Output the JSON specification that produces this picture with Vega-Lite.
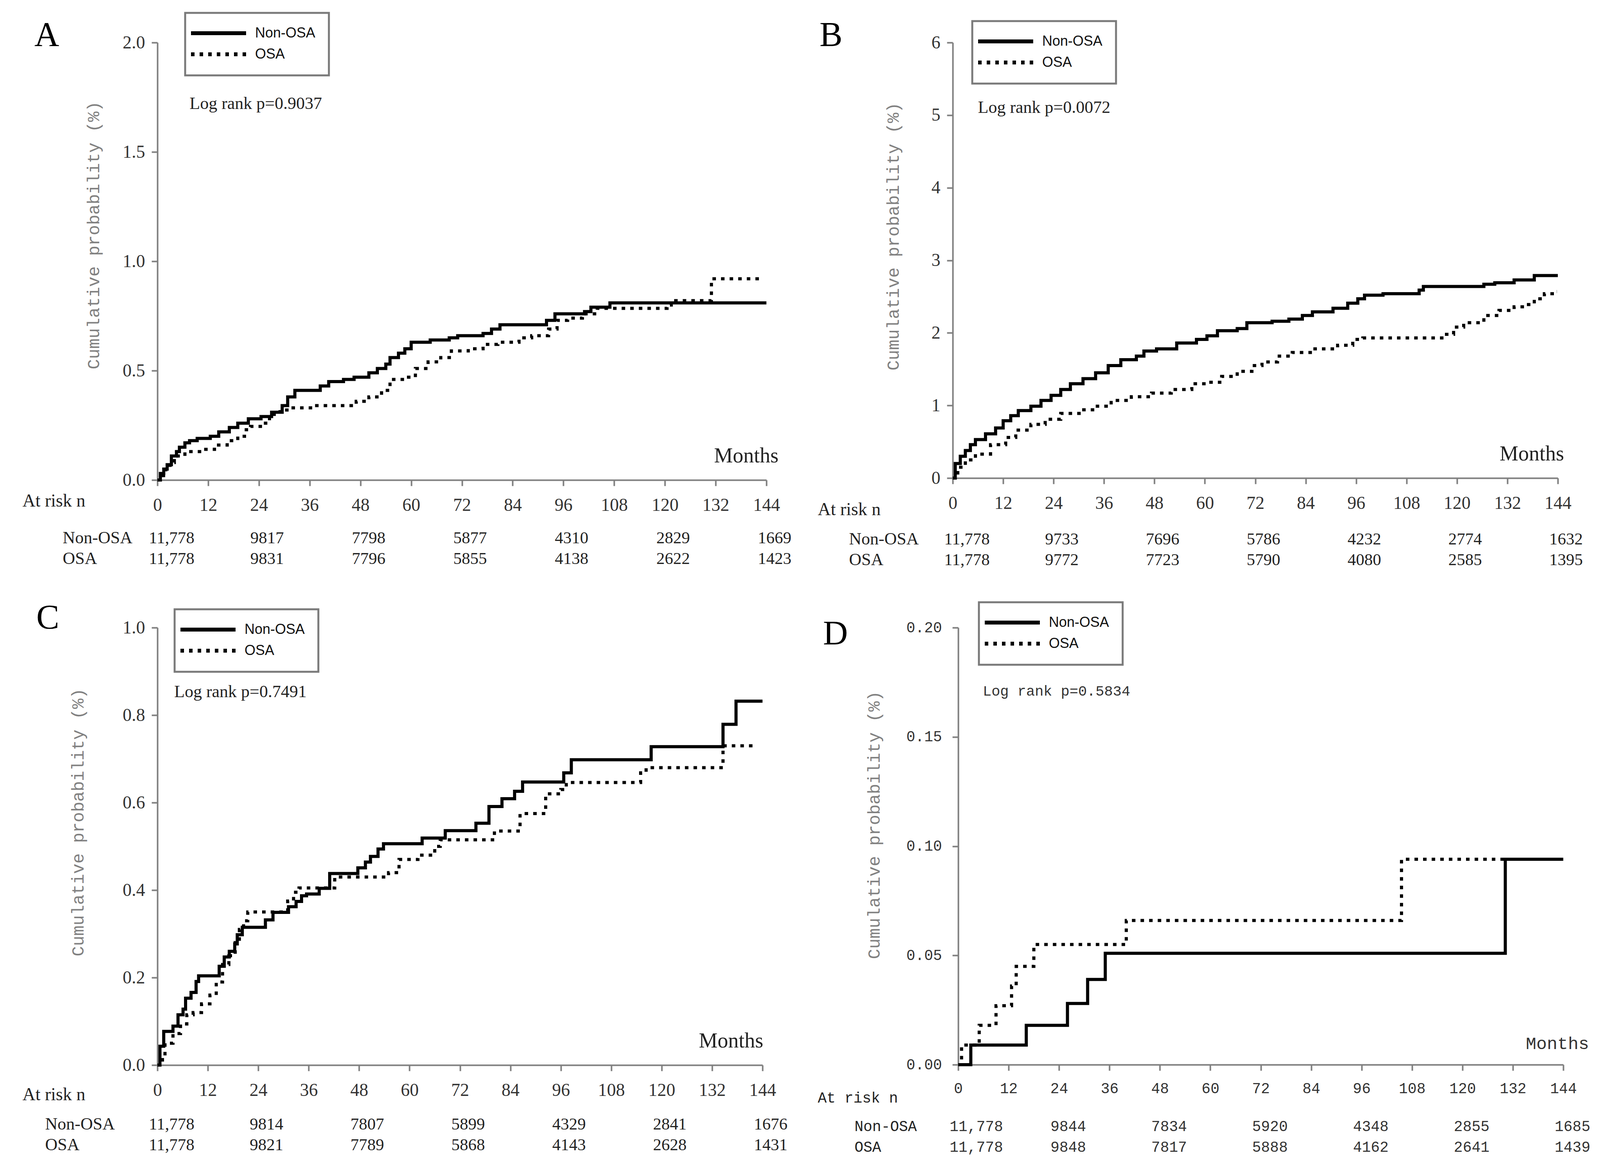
{
  "$schema": "https://vega.github.io/schema/vega-lite/v6.json",
  "background": "white",
  "padding": {"left": 57, "top": 30, "right": 5, "bottom": 5},
  "columns": 2,
  "align": "none",
  "spacing": {"row": 79, "column": 67},
  "resolve": {"scale": {"strokeDash": "independent"}, "legend": {"strokeDash": "independent"}},
  "datasets": {
    "curveA": [
      {"group": "Non-OSA", "month": 0, "p": 0}, {"group": "Non-OSA", "month": 0.7, "p": 0.03}, {"group": "Non-OSA", "month": 1.5, "p": 0.05}, {"group": "Non-OSA", "month": 2.3, "p": 0.07}, {"group": "Non-OSA", "month": 3.3, "p": 0.11}, {"group": "Non-OSA", "month": 4.5, "p": 0.13}, {"group": "Non-OSA", "month": 5.2, "p": 0.15}, {"group": "Non-OSA", "month": 6.5, "p": 0.17}, {"group": "Non-OSA", "month": 7.6, "p": 0.18}, {"group": "Non-OSA", "month": 9.4, "p": 0.19}, {"group": "Non-OSA", "month": 12.5, "p": 0.2}, {"group": "Non-OSA", "month": 14.5, "p": 0.22}, {"group": "Non-OSA", "month": 17, "p": 0.24}, {"group": "Non-OSA", "month": 19, "p": 0.26}, {"group": "Non-OSA", "month": 21.5, "p": 0.28}, {"group": "Non-OSA", "month": 24.5, "p": 0.29}, {"group": "Non-OSA", "month": 27, "p": 0.31}, {"group": "Non-OSA", "month": 29.5, "p": 0.34}, {"group": "Non-OSA", "month": 30.8, "p": 0.38}, {"group": "Non-OSA", "month": 32.5, "p": 0.41}, {"group": "Non-OSA", "month": 38.5, "p": 0.43}, {"group": "Non-OSA", "month": 40.5, "p": 0.45}, {"group": "Non-OSA", "month": 44, "p": 0.46}, {"group": "Non-OSA", "month": 46.5, "p": 0.47}, {"group": "Non-OSA", "month": 50, "p": 0.49}, {"group": "Non-OSA", "month": 52, "p": 0.51}, {"group": "Non-OSA", "month": 54, "p": 0.53}, {"group": "Non-OSA", "month": 55, "p": 0.56}, {"group": "Non-OSA", "month": 57, "p": 0.58}, {"group": "Non-OSA", "month": 58.5, "p": 0.6}, {"group": "Non-OSA", "month": 60, "p": 0.63}, {"group": "Non-OSA", "month": 64.5, "p": 0.64}, {"group": "Non-OSA", "month": 69, "p": 0.65}, {"group": "Non-OSA", "month": 71, "p": 0.66}, {"group": "Non-OSA", "month": 77, "p": 0.67}, {"group": "Non-OSA", "month": 79, "p": 0.69}, {"group": "Non-OSA", "month": 81, "p": 0.71}, {"group": "Non-OSA", "month": 92, "p": 0.73}, {"group": "Non-OSA", "month": 94, "p": 0.76}, {"group": "Non-OSA", "month": 101, "p": 0.77}, {"group": "Non-OSA", "month": 102.5, "p": 0.79}, {"group": "Non-OSA", "month": 107, "p": 0.81}, {"group": "Non-OSA", "month": 144, "p": 0.81},
      {"group": "OSA", "month": 0, "p": 0}, {"group": "OSA", "month": 1, "p": 0.02}, {"group": "OSA", "month": 2, "p": 0.05}, {"group": "OSA", "month": 3, "p": 0.08}, {"group": "OSA", "month": 4, "p": 0.11}, {"group": "OSA", "month": 6.5, "p": 0.13}, {"group": "OSA", "month": 11, "p": 0.14}, {"group": "OSA", "month": 13.5, "p": 0.16}, {"group": "OSA", "month": 16.5, "p": 0.18}, {"group": "OSA", "month": 19, "p": 0.2}, {"group": "OSA", "month": 21, "p": 0.23}, {"group": "OSA", "month": 22, "p": 0.245}, {"group": "OSA", "month": 25, "p": 0.26}, {"group": "OSA", "month": 26.5, "p": 0.3}, {"group": "OSA", "month": 29, "p": 0.32}, {"group": "OSA", "month": 31.5, "p": 0.33}, {"group": "OSA", "month": 37, "p": 0.34}, {"group": "OSA", "month": 47, "p": 0.36}, {"group": "OSA", "month": 50, "p": 0.38}, {"group": "OSA", "month": 53, "p": 0.41}, {"group": "OSA", "month": 55, "p": 0.46}, {"group": "OSA", "month": 59, "p": 0.47}, {"group": "OSA", "month": 61, "p": 0.51}, {"group": "OSA", "month": 64, "p": 0.54}, {"group": "OSA", "month": 67, "p": 0.56}, {"group": "OSA", "month": 69.5, "p": 0.59}, {"group": "OSA", "month": 73.5, "p": 0.6}, {"group": "OSA", "month": 77, "p": 0.62}, {"group": "OSA", "month": 80.5, "p": 0.63}, {"group": "OSA", "month": 85.5, "p": 0.65}, {"group": "OSA", "month": 88.5, "p": 0.66}, {"group": "OSA", "month": 92.5, "p": 0.69}, {"group": "OSA", "month": 94.5, "p": 0.73}, {"group": "OSA", "month": 97, "p": 0.74}, {"group": "OSA", "month": 100.5, "p": 0.76}, {"group": "OSA", "month": 104, "p": 0.785}, {"group": "OSA", "month": 120.5, "p": 0.8}, {"group": "OSA", "month": 121.5, "p": 0.82}, {"group": "OSA", "month": 131, "p": 0.92}, {"group": "OSA", "month": 142.5, "p": 0.92}
    ],
    "curveB": [
      {"group": "Non-OSA", "month": 0, "p": 0}, {"group": "Non-OSA", "month": 0.6, "p": 0.2}, {"group": "Non-OSA", "month": 1.8, "p": 0.3}, {"group": "Non-OSA", "month": 3, "p": 0.38}, {"group": "Non-OSA", "month": 4.2, "p": 0.46}, {"group": "Non-OSA", "month": 5.4, "p": 0.53}, {"group": "Non-OSA", "month": 7.8, "p": 0.61}, {"group": "Non-OSA", "month": 10.2, "p": 0.69}, {"group": "Non-OSA", "month": 12, "p": 0.79}, {"group": "Non-OSA", "month": 13.8, "p": 0.86}, {"group": "Non-OSA", "month": 15.6, "p": 0.93}, {"group": "Non-OSA", "month": 18.6, "p": 0.99}, {"group": "Non-OSA", "month": 21, "p": 1.07}, {"group": "Non-OSA", "month": 23.4, "p": 1.14}, {"group": "Non-OSA", "month": 25.7, "p": 1.22}, {"group": "Non-OSA", "month": 28, "p": 1.3}, {"group": "Non-OSA", "month": 31, "p": 1.37}, {"group": "Non-OSA", "month": 34, "p": 1.45}, {"group": "Non-OSA", "month": 37, "p": 1.55}, {"group": "Non-OSA", "month": 40, "p": 1.63}, {"group": "Non-OSA", "month": 43.7, "p": 1.68}, {"group": "Non-OSA", "month": 45.5, "p": 1.75}, {"group": "Non-OSA", "month": 48.5, "p": 1.78}, {"group": "Non-OSA", "month": 53.3, "p": 1.86}, {"group": "Non-OSA", "month": 58, "p": 1.91}, {"group": "Non-OSA", "month": 60.5, "p": 1.96}, {"group": "Non-OSA", "month": 63, "p": 2.03}, {"group": "Non-OSA", "month": 67.7, "p": 2.06}, {"group": "Non-OSA", "month": 70, "p": 2.14}, {"group": "Non-OSA", "month": 76, "p": 2.16}, {"group": "Non-OSA", "month": 80, "p": 2.19}, {"group": "Non-OSA", "month": 83.2, "p": 2.24}, {"group": "Non-OSA", "month": 85.6, "p": 2.29}, {"group": "Non-OSA", "month": 90.5, "p": 2.34}, {"group": "Non-OSA", "month": 94, "p": 2.41}, {"group": "Non-OSA", "month": 96.4, "p": 2.47}, {"group": "Non-OSA", "month": 98, "p": 2.52}, {"group": "Non-OSA", "month": 102.4, "p": 2.54}, {"group": "Non-OSA", "month": 111, "p": 2.59}, {"group": "Non-OSA", "month": 112, "p": 2.64}, {"group": "Non-OSA", "month": 126.4, "p": 2.67}, {"group": "Non-OSA", "month": 129, "p": 2.69}, {"group": "Non-OSA", "month": 133.6, "p": 2.73}, {"group": "Non-OSA", "month": 138.4, "p": 2.79}, {"group": "Non-OSA", "month": 144, "p": 2.79},
      {"group": "OSA", "month": 0, "p": 0}, {"group": "OSA", "month": 1.2, "p": 0.15}, {"group": "OSA", "month": 3, "p": 0.25}, {"group": "OSA", "month": 5.4, "p": 0.33}, {"group": "OSA", "month": 9, "p": 0.46}, {"group": "OSA", "month": 12.6, "p": 0.56}, {"group": "OSA", "month": 15, "p": 0.66}, {"group": "OSA", "month": 18.6, "p": 0.74}, {"group": "OSA", "month": 22, "p": 0.81}, {"group": "OSA", "month": 25.7, "p": 0.89}, {"group": "OSA", "month": 30.5, "p": 0.94}, {"group": "OSA", "month": 34, "p": 0.99}, {"group": "OSA", "month": 37.7, "p": 1.07}, {"group": "OSA", "month": 42.5, "p": 1.12}, {"group": "OSA", "month": 47.3, "p": 1.17}, {"group": "OSA", "month": 52, "p": 1.22}, {"group": "OSA", "month": 56.9, "p": 1.3}, {"group": "OSA", "month": 60.5, "p": 1.32}, {"group": "OSA", "month": 64, "p": 1.4}, {"group": "OSA", "month": 67.7, "p": 1.47}, {"group": "OSA", "month": 71.2, "p": 1.55}, {"group": "OSA", "month": 73.6, "p": 1.6}, {"group": "OSA", "month": 77.3, "p": 1.68}, {"group": "OSA", "month": 80.8, "p": 1.73}, {"group": "OSA", "month": 85.6, "p": 1.78}, {"group": "OSA", "month": 91.6, "p": 1.83}, {"group": "OSA", "month": 95.2, "p": 1.91}, {"group": "OSA", "month": 97.6, "p": 1.93}, {"group": "OSA", "month": 117, "p": 1.98}, {"group": "OSA", "month": 119.2, "p": 2.08}, {"group": "OSA", "month": 121.6, "p": 2.14}, {"group": "OSA", "month": 126.4, "p": 2.24}, {"group": "OSA", "month": 130, "p": 2.31}, {"group": "OSA", "month": 133.6, "p": 2.36}, {"group": "OSA", "month": 136, "p": 2.39}, {"group": "OSA", "month": 138.4, "p": 2.47}, {"group": "OSA", "month": 140.8, "p": 2.54}, {"group": "OSA", "month": 143.2, "p": 2.57}, {"group": "OSA", "month": 143.8, "p": 2.57}
    ],
    "curveC": [
      {"group": "Non-OSA", "month": 0, "p": 0}, {"group": "Non-OSA", "month": 0.6, "p": 0.043}, {"group": "Non-OSA", "month": 1.5, "p": 0.077}, {"group": "Non-OSA", "month": 3.7, "p": 0.089}, {"group": "Non-OSA", "month": 4.9, "p": 0.115}, {"group": "Non-OSA", "month": 6.1, "p": 0.128}, {"group": "Non-OSA", "month": 6.7, "p": 0.153}, {"group": "Non-OSA", "month": 8, "p": 0.166}, {"group": "Non-OSA", "month": 9.2, "p": 0.191}, {"group": "Non-OSA", "month": 9.8, "p": 0.204}, {"group": "Non-OSA", "month": 14.7, "p": 0.226}, {"group": "Non-OSA", "month": 15.9, "p": 0.247}, {"group": "Non-OSA", "month": 17.1, "p": 0.26}, {"group": "Non-OSA", "month": 18.4, "p": 0.277}, {"group": "Non-OSA", "month": 19, "p": 0.298}, {"group": "Non-OSA", "month": 20.2, "p": 0.315}, {"group": "Non-OSA", "month": 25.7, "p": 0.332}, {"group": "Non-OSA", "month": 27.5, "p": 0.349}, {"group": "Non-OSA", "month": 31.2, "p": 0.362}, {"group": "Non-OSA", "month": 33, "p": 0.374}, {"group": "Non-OSA", "month": 34.3, "p": 0.387}, {"group": "Non-OSA", "month": 35.5, "p": 0.391}, {"group": "Non-OSA", "month": 38.5, "p": 0.404}, {"group": "Non-OSA", "month": 41, "p": 0.438}, {"group": "Non-OSA", "month": 47.7, "p": 0.451}, {"group": "Non-OSA", "month": 49.5, "p": 0.464}, {"group": "Non-OSA", "month": 50.7, "p": 0.477}, {"group": "Non-OSA", "month": 52.5, "p": 0.494}, {"group": "Non-OSA", "month": 53.8, "p": 0.506}, {"group": "Non-OSA", "month": 63, "p": 0.519}, {"group": "Non-OSA", "month": 68.5, "p": 0.536}, {"group": "Non-OSA", "month": 75.8, "p": 0.553}, {"group": "Non-OSA", "month": 78.9, "p": 0.591}, {"group": "Non-OSA", "month": 82, "p": 0.609}, {"group": "Non-OSA", "month": 85, "p": 0.626}, {"group": "Non-OSA", "month": 86.9, "p": 0.647}, {"group": "Non-OSA", "month": 96.7, "p": 0.668}, {"group": "Non-OSA", "month": 98.5, "p": 0.698}, {"group": "Non-OSA", "month": 117.5, "p": 0.728}, {"group": "Non-OSA", "month": 134.6, "p": 0.779}, {"group": "Non-OSA", "month": 137.7, "p": 0.832}, {"group": "Non-OSA", "month": 144, "p": 0.832},
      {"group": "OSA", "month": 0, "p": 0}, {"group": "OSA", "month": 1.2, "p": 0.021}, {"group": "OSA", "month": 1.8, "p": 0.05}, {"group": "OSA", "month": 3.7, "p": 0.072}, {"group": "OSA", "month": 5.5, "p": 0.094}, {"group": "OSA", "month": 7, "p": 0.115}, {"group": "OSA", "month": 8.5, "p": 0.12}, {"group": "OSA", "month": 10.5, "p": 0.14}, {"group": "OSA", "month": 12.5, "p": 0.16}, {"group": "OSA", "month": 14, "p": 0.19}, {"group": "OSA", "month": 15.5, "p": 0.23}, {"group": "OSA", "month": 17, "p": 0.25}, {"group": "OSA", "month": 18.5, "p": 0.28}, {"group": "OSA", "month": 19.5, "p": 0.31}, {"group": "OSA", "month": 20.5, "p": 0.33}, {"group": "OSA", "month": 21.5, "p": 0.35}, {"group": "OSA", "month": 31, "p": 0.375}, {"group": "OSA", "month": 32.4, "p": 0.395}, {"group": "OSA", "month": 33.7, "p": 0.405}, {"group": "OSA", "month": 42.2, "p": 0.43}, {"group": "OSA", "month": 55, "p": 0.44}, {"group": "OSA", "month": 57.5, "p": 0.47}, {"group": "OSA", "month": 62, "p": 0.48}, {"group": "OSA", "month": 66, "p": 0.5}, {"group": "OSA", "month": 67.3, "p": 0.515}, {"group": "OSA", "month": 80.2, "p": 0.535}, {"group": "OSA", "month": 86.3, "p": 0.575}, {"group": "OSA", "month": 92.4, "p": 0.62}, {"group": "OSA", "month": 96, "p": 0.63}, {"group": "OSA", "month": 97.3, "p": 0.646}, {"group": "OSA", "month": 115, "p": 0.668}, {"group": "OSA", "month": 116.3, "p": 0.68}, {"group": "OSA", "month": 134.6, "p": 0.73}, {"group": "OSA", "month": 142.5, "p": 0.73}
    ],
    "curveD": [
      {"group": "Non-OSA", "month": 0, "p": 0}, {"group": "Non-OSA", "month": 3, "p": 0.009}, {"group": "Non-OSA", "month": 16.2, "p": 0.018}, {"group": "Non-OSA", "month": 26, "p": 0.028}, {"group": "Non-OSA", "month": 30.8, "p": 0.039}, {"group": "Non-OSA", "month": 35, "p": 0.051}, {"group": "Non-OSA", "month": 130.2, "p": 0.094}, {"group": "Non-OSA", "month": 144, "p": 0.094},
      {"group": "OSA", "month": 0, "p": 0}, {"group": "OSA", "month": 0.8, "p": 0.009}, {"group": "OSA", "month": 5, "p": 0.018}, {"group": "OSA", "month": 9, "p": 0.027}, {"group": "OSA", "month": 12.7, "p": 0.036}, {"group": "OSA", "month": 13.8, "p": 0.045}, {"group": "OSA", "month": 18, "p": 0.055}, {"group": "OSA", "month": 40, "p": 0.066}, {"group": "OSA", "month": 105.5, "p": 0.094}, {"group": "OSA", "month": 144, "p": 0.094}
    ],
    "riskA": [
      {"group": "Non-OSA", "month": 0, "n": "11,778"}, {"group": "Non-OSA", "month": 24, "n": "9817"}, {"group": "Non-OSA", "month": 48, "n": "7798"}, {"group": "Non-OSA", "month": 72, "n": "5877"}, {"group": "Non-OSA", "month": 96, "n": "4310"}, {"group": "Non-OSA", "month": 120, "n": "2829"}, {"group": "Non-OSA", "month": 144, "n": "1669"},
      {"group": "OSA", "month": 0, "n": "11,778"}, {"group": "OSA", "month": 24, "n": "9831"}, {"group": "OSA", "month": 48, "n": "7796"}, {"group": "OSA", "month": 72, "n": "5855"}, {"group": "OSA", "month": 96, "n": "4138"}, {"group": "OSA", "month": 120, "n": "2622"}, {"group": "OSA", "month": 144, "n": "1423"}
    ],
    "riskB": [
      {"group": "Non-OSA", "month": 0, "n": "11,778"}, {"group": "Non-OSA", "month": 24, "n": "9733"}, {"group": "Non-OSA", "month": 48, "n": "7696"}, {"group": "Non-OSA", "month": 72, "n": "5786"}, {"group": "Non-OSA", "month": 96, "n": "4232"}, {"group": "Non-OSA", "month": 120, "n": "2774"}, {"group": "Non-OSA", "month": 144, "n": "1632"},
      {"group": "OSA", "month": 0, "n": "11,778"}, {"group": "OSA", "month": 24, "n": "9772"}, {"group": "OSA", "month": 48, "n": "7723"}, {"group": "OSA", "month": 72, "n": "5790"}, {"group": "OSA", "month": 96, "n": "4080"}, {"group": "OSA", "month": 120, "n": "2585"}, {"group": "OSA", "month": 144, "n": "1395"}
    ],
    "riskC": [
      {"group": "Non-OSA", "month": 0, "n": "11,778"}, {"group": "Non-OSA", "month": 24, "n": "9814"}, {"group": "Non-OSA", "month": 48, "n": "7807"}, {"group": "Non-OSA", "month": 72, "n": "5899"}, {"group": "Non-OSA", "month": 96, "n": "4329"}, {"group": "Non-OSA", "month": 120, "n": "2841"}, {"group": "Non-OSA", "month": 144, "n": "1676"},
      {"group": "OSA", "month": 0, "n": "11,778"}, {"group": "OSA", "month": 24, "n": "9821"}, {"group": "OSA", "month": 48, "n": "7789"}, {"group": "OSA", "month": 72, "n": "5868"}, {"group": "OSA", "month": 96, "n": "4143"}, {"group": "OSA", "month": 120, "n": "2628"}, {"group": "OSA", "month": 144, "n": "1431"}
    ],
    "riskD": [
      {"group": "Non-OSA", "month": 0, "n": "11,778"}, {"group": "Non-OSA", "month": 24, "n": "9844"}, {"group": "Non-OSA", "month": 48, "n": "7834"}, {"group": "Non-OSA", "month": 72, "n": "5920"}, {"group": "Non-OSA", "month": 96, "n": "4348"}, {"group": "Non-OSA", "month": 120, "n": "2855"}, {"group": "Non-OSA", "month": 144, "n": "1685"},
      {"group": "OSA", "month": 0, "n": "11,778"}, {"group": "OSA", "month": 24, "n": "9848"}, {"group": "OSA", "month": 48, "n": "7817"}, {"group": "OSA", "month": 72, "n": "5888"}, {"group": "OSA", "month": 96, "n": "4162"}, {"group": "OSA", "month": 120, "n": "2641"}, {"group": "OSA", "month": 144, "n": "1439"}
    ]
  },
  "concat": [
    {
      "spacing": 35,
      "vconcat": [
        {
          "width": 1559, "height": 1120,
          "title": {"text": "A", "anchor": "start", "frame": "group", "dx": -315, "dy": 119, "offset": 0, "baseline": "alphabetic", "font": "Liberation Serif", "fontSize": 88, "fontWeight": "normal", "color": "black"},
          "layer": [
            {
              "data": {"name": "curveA"},
              "mark": {"type": "line", "interpolate": "step-after", "color": "black", "strokeWidth": 8, "strokeCap": "butt"},
              "encoding": {
                "x": {"field": "month", "type": "quantitative", "scale": {"domain": [0, 144], "nice": false}, "axis": {"values": [0, 12, 24, 36, 48, 60, 72, 84, 96, 108, 120, 132, 144], "title": "At risk n", "titleX": -346, "titleY": 53}},
                "y": {"field": "p", "type": "quantitative", "scale": {"domain": [0, 2], "nice": false}, "axis": {"values": [0, 0.5, 1, 1.5, 2], "format": ".1f", "title": "Cumulative probability (%)", "titleX": -163, "titleY": 493}},
                "strokeDash": {"field": "group", "type": "nominal", "scale": {"domain": ["Non-OSA", "OSA"], "range": [[1, 0], [9, 13]]}, "legend": {"orient": "none", "legendX": 71, "legendY": -76, "title": null}}
              }
            },
            {
              "data": {"values": [{}]},
              "mark": {"type": "text", "align": "left", "baseline": "middle", "font": "Liberation Serif", "fontSize": 44, "color": "#222"},
              "encoding": {"x": {"datum": 7.6}, "y": {"datum": 1.72}, "text": {"value": "Log rank p=0.9037"}}
            },
            {
              "data": {"values": [{}]},
              "mark": {"type": "text", "align": "right", "baseline": "alphabetic", "dx": 31, "dy": -45, "font": "Liberation Serif", "fontSize": 54, "color": "#222"},
              "encoding": {"x": {"datum": 144}, "y": {"datum": 0}, "text": {"value": "Months"}}
            }
          ]
        },
        {
          "width": 1559, "height": 106,
          "data": {"name": "riskA"},
          "mark": {"type": "text", "align": "left", "baseline": "middle", "dx": -22, "font": "Liberation Serif", "fontSize": 43, "color": "#222"},
          "encoding": {
            "x": {"field": "month", "type": "quantitative", "scale": {"domain": [0, 144], "nice": false}, "axis": null},
            "y": {"field": "group", "type": "nominal", "scale": {"domain": ["Non-OSA", "OSA"]}, "axis": {"title": null, "labelPadding": 243}},
            "text": {"field": "n"}
          }
        }
      ]
    },
    {
      "spacing": 27,
      "vconcat": [
        {
          "width": 1549, "height": 1115,
          "title": {"text": "B", "anchor": "start", "frame": "group", "dx": -341, "dy": 119, "offset": 0, "baseline": "alphabetic", "font": "Liberation Serif", "fontSize": 88, "fontWeight": "normal", "color": "black"},
          "layer": [
            {
              "data": {"name": "curveB"},
              "mark": {"type": "line", "interpolate": "step-after", "color": "black", "strokeWidth": 8, "strokeCap": "butt"},
              "encoding": {
                "x": {"field": "month", "type": "quantitative", "scale": {"domain": [0, 144], "nice": false}, "axis": {"values": [0, 12, 24, 36, 48, 60, 72, 84, 96, 108, 120, 132, 144], "title": "At risk n", "titleX": -346, "titleY": 80}},
                "y": {"field": "p", "type": "quantitative", "scale": {"domain": [0, 6], "nice": false}, "axis": {"values": [0, 1, 2, 3, 4, 5, 6], "format": "d", "title": "Cumulative probability (%)", "titleX": -152, "titleY": 496}},
                "strokeDash": {"field": "group", "type": "nominal", "scale": {"domain": ["Non-OSA", "OSA"], "range": [[1, 0], [9, 13]]}, "legend": {"orient": "none", "legendX": 50, "legendY": -55, "title": null}}
              }
            },
            {
              "data": {"values": [{}]},
              "mark": {"type": "text", "align": "left", "baseline": "middle", "font": "Liberation Serif", "fontSize": 44, "color": "#222"},
              "encoding": {"x": {"datum": 6}, "y": {"datum": 5.1}, "text": {"value": "Log rank p=0.0072"}}
            },
            {
              "data": {"values": [{}]},
              "mark": {"type": "text", "align": "right", "baseline": "alphabetic", "dx": 16, "dy": -45, "font": "Liberation Serif", "fontSize": 54, "color": "#222"},
              "encoding": {"x": {"datum": 144}, "y": {"datum": 0}, "text": {"value": "Months"}}
            }
          ]
        },
        {
          "width": 1549, "height": 106,
          "data": {"name": "riskB"},
          "mark": {"type": "text", "align": "left", "baseline": "middle", "dx": -22, "font": "Liberation Serif", "fontSize": 43, "color": "#222"},
          "encoding": {
            "x": {"field": "month", "type": "quantitative", "scale": {"domain": [0, 144], "nice": false}, "axis": null},
            "y": {"field": "group", "type": "nominal", "scale": {"domain": ["Non-OSA", "OSA"]}, "axis": {"title": null, "labelPadding": 266}},
            "text": {"field": "n"}
          }
        }
      ]
    },
    {
      "spacing": 27,
      "vconcat": [
        {
          "width": 1549, "height": 1120,
          "title": {"text": "C", "anchor": "start", "frame": "group", "dx": -310, "dy": 113, "offset": 0, "baseline": "alphabetic", "font": "Liberation Serif", "fontSize": 88, "fontWeight": "normal", "color": "black"},
          "layer": [
            {
              "data": {"name": "curveC"},
              "mark": {"type": "line", "interpolate": "step-after", "color": "black", "strokeWidth": 8, "strokeCap": "butt"},
              "encoding": {
                "x": {"field": "month", "type": "quantitative", "scale": {"domain": [0, 144], "nice": false}, "axis": {"values": [0, 12, 24, 36, 48, 60, 72, 84, 96, 108, 120, 132, 144], "title": "At risk n", "titleX": -346, "titleY": 75}},
                "y": {"field": "p", "type": "quantitative", "scale": {"domain": [0, 1], "nice": false}, "axis": {"values": [0, 0.2, 0.4, 0.6, 0.8, 1], "format": ".1f", "title": "Cumulative probability (%)", "titleX": -203, "titleY": 498}},
                "strokeDash": {"field": "group", "type": "nominal", "scale": {"domain": ["Non-OSA", "OSA"], "range": [[1, 0], [9, 13]]}, "legend": {"orient": "none", "legendX": 44, "legendY": -47, "title": null}}
              }
            },
            {
              "data": {"values": [{}]},
              "mark": {"type": "text", "align": "left", "baseline": "middle", "font": "Liberation Serif", "fontSize": 44, "color": "#222"},
              "encoding": {"x": {"datum": 4}, "y": {"datum": 0.853}, "text": {"value": "Log rank p=0.7491"}}
            },
            {
              "data": {"values": [{}]},
              "mark": {"type": "text", "align": "right", "baseline": "alphabetic", "dx": 2, "dy": -45, "font": "Liberation Serif", "fontSize": 54, "color": "#222"},
              "encoding": {"x": {"datum": 144}, "y": {"datum": 0}, "text": {"value": "Months"}}
            }
          ]
        },
        {
          "width": 1549, "height": 106,
          "data": {"name": "riskC"},
          "mark": {"type": "text", "align": "left", "baseline": "middle", "dx": -22, "font": "Liberation Serif", "fontSize": 43, "color": "#222"},
          "encoding": {
            "x": {"field": "month", "type": "quantitative", "scale": {"domain": [0, 144], "nice": false}, "axis": null},
            "y": {"field": "group", "type": "nominal", "scale": {"domain": ["Non-OSA", "OSA"]}, "axis": {"title": null, "labelPadding": 288}},
            "text": {"field": "n"}
          }
        }
      ]
    },
    {
      "spacing": 28,
      "vconcat": [
        {
          "width": 1549, "height": 1119,
          "title": {"text": "D", "anchor": "start", "frame": "group", "dx": -346, "dy": 150, "offset": 0, "baseline": "alphabetic", "font": "Liberation Serif", "fontSize": 88, "fontWeight": "normal", "color": "black"},
          "layer": [
            {
              "data": {"name": "curveD"},
              "mark": {"type": "line", "interpolate": "step-after", "color": "black", "strokeWidth": 8, "strokeCap": "butt"},
              "encoding": {
                "x": {"field": "month", "type": "quantitative", "scale": {"domain": [0, 144], "nice": false}, "axis": {"values": [0, 12, 24, 36, 48, 60, 72, 84, 96, 108, 120, 132, 144], "title": "At risk n", "titleX": -360, "titleY": 85, "labelFont": "Liberation Mono", "labelFontSize": 38, "titleFont": "Liberation Mono", "titleFontSize": 38}},
                "y": {"field": "p", "type": "quantitative", "scale": {"domain": [0, 0.2], "nice": false}, "axis": {"values": [0, 0.05, 0.1, 0.15, 0.2], "format": ".2f", "title": "Cumulative probability (%)", "titleX": -215, "titleY": 505, "labelFont": "Liberation Mono", "labelFontSize": 38, "labelPadding": 27}},
                "strokeDash": {"field": "group", "type": "nominal", "scale": {"domain": ["Non-OSA", "OSA"], "range": [[1, 0], [9, 13]]}, "legend": {"orient": "none", "legendX": 53, "legendY": -65, "title": null}}
              }
            },
            {
              "data": {"values": [{}]},
              "mark": {"type": "text", "align": "left", "baseline": "middle", "font": "Liberation Mono", "fontSize": 37, "color": "#333"},
              "encoding": {"x": {"datum": 5.85}, "y": {"datum": 0.1709}, "text": {"value": "Log rank p=0.5834"}}
            },
            {
              "data": {"values": [{}]},
              "mark": {"type": "text", "align": "right", "baseline": "alphabetic", "dx": 66, "dy": -40, "font": "Liberation Mono", "fontSize": 45, "color": "#333"},
              "encoding": {"x": {"datum": 144}, "y": {"datum": 0}, "text": {"value": "Months"}}
            }
          ]
        },
        {
          "width": 1549, "height": 106,
          "data": {"name": "riskD"},
          "mark": {"type": "text", "align": "left", "baseline": "middle", "dx": -22, "font": "Liberation Mono", "fontSize": 38, "color": "#333"},
          "encoding": {
            "x": {"field": "month", "type": "quantitative", "scale": {"domain": [0, 144], "nice": false}, "axis": null},
            "y": {"field": "group", "type": "nominal", "scale": {"domain": ["Non-OSA", "OSA"]}, "axis": {"title": null, "labelPadding": 266, "labelFont": "Liberation Mono", "labelFontSize": 38}},
            "text": {"field": "n"}
          }
        }
      ]
    }
  ],
  "config": {
    "view": {"stroke": null},
    "axis": {"grid": false, "domainColor": "#808080", "domainWidth": 4, "tickColor": "#808080", "tickWidth": 4, "tickSize": 15, "labelFont": "Liberation Serif", "labelFontSize": 46, "labelColor": "#333", "titleFont": "Liberation Mono", "titleFontSize": 44, "titleColor": "#808080", "titleFontWeight": "normal", "labelLimit": 600},
    "axisX": {"labelPadding": 27, "labelFlush": false, "titleAngle": 0, "titleAlign": "left", "titleBaseline": "middle", "titleFont": "Liberation Serif", "titleFontSize": 46, "titleColor": "#222"},
    "axisY": {"labelPadding": 17, "titleAngle": -90, "titleBaseline": "middle", "titleAlign": "center"},
    "axisBand": {"domain": false, "ticks": false, "tickSize": 0, "labelAlign": "left", "labelFontSize": 44, "labelColor": "#222", "labelLimit": 600},
    "axisPoint": {"domain": false, "ticks": false, "tickSize": 0, "labelAlign": "left", "labelFontSize": 44, "labelColor": "#222", "labelLimit": 600},
    "legend": {"symbolType": "M-3.7,0H10.4", "symbolSize": 400, "symbolStrokeWidth": 10, "symbolStrokeColor": "black", "labelFont": "Liberation Sans", "labelFontSize": 36, "labelColor": "#111", "labelOffset": 109, "labelLimit": 600, "padding": 34, "rowPadding": 14, "strokeColor": "#7a7a7a", "strokeWidth": 5, "fillColor": "white"}
  }
}
